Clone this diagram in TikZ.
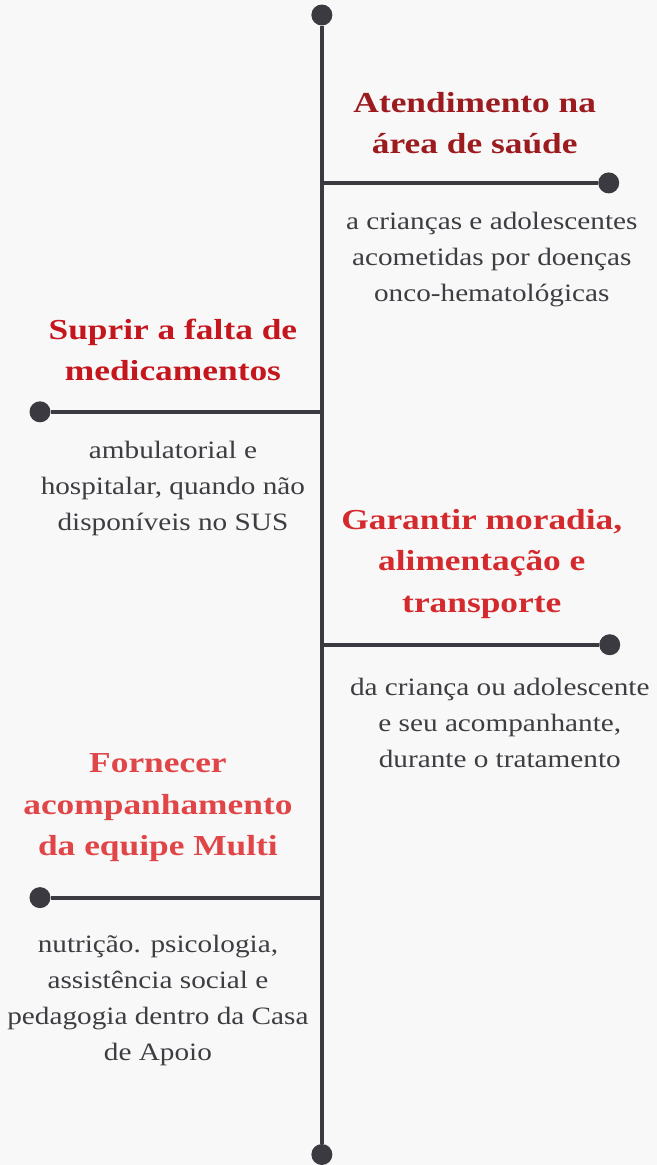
\documentclass[tikz,border=0pt]{standalone}
\usepackage{fontspec}
\setmainfont[FakeStretch=1.17]{Liberation Serif}
\newfontfamily\headfont[FakeStretch=1.22]{Liberation Serif}
\usetikzlibrary{positioning}

\definecolor{paper}{HTML}{F8F8F8}
\definecolor{spinegray}{HTML}{3A3A40}
\definecolor{bodygray}{HTML}{3D3D42}
\definecolor{redA}{HTML}{9C1B1F}
\definecolor{redB}{HTML}{C4161C}
\definecolor{redC}{HTML}{D42A2D}
\definecolor{redD}{HTML}{E04547}

\begin{document}
\begin{tikzpicture}[
  x=1pt, y=-1pt,
  spine/.style={line width=4pt, draw=spinegray},
  dot/.style={circle, fill=spinegray, inner sep=0pt, minimum size=21pt},
  heading/.style={align=center, inner sep=0pt, font=\headfont\fontsize{29}{41.5}\selectfont\bfseries},
  body/.style={align=center, inner sep=0pt, text=bodygray, font=\fontsize{25}{36}\selectfont},
]
\fill[paper] (0,0) rectangle (657,1165);

% ================= timeline =================
\node[dot] (top) at (322,15) {};
\node[dot] (bottom) at (322,1155) {};
\draw[spine] (top) -- (bottom);

% ================= step 1 =================
\coordinate (j1) at (322,183);
\node[dot] (d1) at (609,183) {};
\draw[spine] (j1) -- (d1);
\node[heading, text=redA] (h1) at (475,123) {Atendimento na\\área de saúde};
\node[body] (b1) at (492,260) {a crianças e adolescentes\\acometidas por doenças\\onco-hematológicas};

% ================= step 2 =================
\coordinate (j2) at (322,412);
\node[dot] (d2) at (40,412) {};
\draw[spine] (j2) -- (d2);
\node[heading, text=redB] (h2) at (173,350) {Suprir a falta de\\medicamentos};
\node[body] (b2) at (173,489) {ambulatorial e\\hospitalar, quando não\\disponíveis no SUS};

% ================= step 3 =================
\coordinate (j3) at (322,645);
\node[dot] (d3) at (610,645) {};
\draw[spine] (j3) -- (d3);
\node[heading, text=redC] (h3) at (482,564) {Garantir moradia,\\alimentação e\\transporte};
\node[body] (b3) at (500,723) {da criança ou adolescente\\e seu acompanhante,\\durante o tratamento};

% ================= step 4 =================
\coordinate (j4) at (322,898);
\node[dot] (d4) at (40,898) {};
\draw[spine] (j4) -- (d4);
\node[heading, text=redD] (h4) at (158,808) {Fornecer\\acompanhamento\\da equipe Multi};
\node[body] (b4) at (158,1001) {nutrição. psicologia,\\assistência social e\\pedagogia dentro da Casa\\de Apoio};

\end{tikzpicture}
\end{document}
